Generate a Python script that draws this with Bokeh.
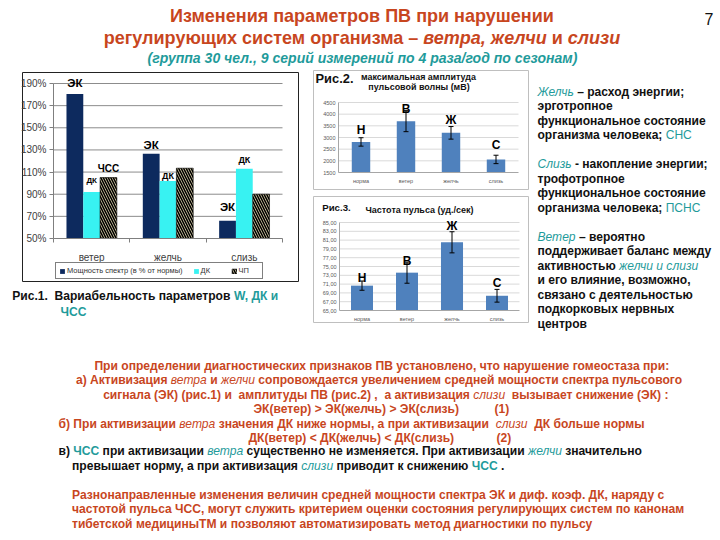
import glob, os
from bokeh.plotting import figure
from bokeh.models import (Range1d, FixedTicker, PrintfTickFormatter, LinearAxis, Legend, LegendItem,
                          ColumnDataSource)
from bokeh.embed import file_html
from bokeh.resources import INLINE
from bokeh.core.properties import value

# ---------------- data ----------------
fig1_categories = ["ветер", "желчь", "слизь"]
fig1_ek = [180.5, 126.5, 66.0]      # Мощность спектр (в % от нормы)
fig1_dk = [92.0, 102.0, 113.0]      # ДК
fig1_chp = [105.0, 113.5, 90.0]     # ЧП
fig1_yticks = [50, 70, 90, 110, 130, 150, 170, 190]
fig1_series_names = ["Мощность спектр (в % от нормы)", "ДК", "ЧП"]
fig1_label_text = ["ЭК", "ДК", "ЧСС", "ЭК", "ДК", "ЭК", "ДК"]
fig1_label_cat = [0, 0, 0, 1, 1, 2, 2]
fig1_label_series = [0, 1, 2, 0, 1, 0, 1]
fig1_label_y = [190.4, 102.4, 113.0, 134.9, 106.9, 78.3, 121.0]

fig2_categories = ["норма", "ветер", "желчь", "слизь"]
fig2_values = [2810, 3700, 3200, 2060]
fig2_err = [180, 450, 270, 180]
fig2_letters = ["Н", "В", "Ж", "С"]
fig2_letter_y = [3340, 4240, 3770, 2660]
fig2_yticks = [1500, 2000, 2500, 3000, 3500, 4000, 4500]

fig3_categories = ["норма", "ветер", "желчь", "слизь"]
fig3_values = [70.65, 73.6, 80.5, 68.35]
fig3_err = [1.05, 2.4, 2.4, 1.45]
fig3_letters = ["Н", "В", "Ж", "С"]
fig3_letter_y = [72.5, 76.2, 84.1, 71.3]
fig3_yticks = [65, 67, 69, 71, 73, 75, 77, 79, 81, 83, 85]

B, I, BI, N = "bold", "italic", "bold italic", "normal"
title_l1 = [("Изменения параметров ПВ при нарушении", B, "o")]
title_l2 = [("регулирующих систем организма – ", B, "o"), ("ветра, желчи", BI, "o"),
            (" и ", B, "o"), ("слизи", BI, "o")]
title_l3 = [("(группа 30 чел., 9 серий измерений по 4 раза/год по сезонам)", BI, "t")]
page_number = "7"

caption1_l1 = [("Рис.1.  Вариабельность параметров ", B, "k"), ("W, ДК и", B, "t")]
caption1_l2 = [("ЧСС", B, "t")]

fig2_tag = "Рис.2."
fig2_title = ["максимальная амплитуда", "пульсовой волны (мВ)"]
fig3_tag = "Рис.3."
fig3_title = "Частота пульса (уд./сек)"

right_lines = [
    [("Желчь", I, "t"), (" – расход энергии;", B, "k")],
    [("эрготропное", B, "k")],
    [("функциональное состояние", B, "k")],
    [("организма человека; ", B, "k"), ("СНС", N, "t")],
    [("Слизь", I, "t"), (" - накопление энергии;", B, "k")],
    [("трофотропное", B, "k")],
    [("функциональное состояние", B, "k")],
    [("организма человека; ", B, "k"), ("ПСНС", N, "t")],
    [("Ветер", I, "t"), (" – вероятно", B, "k")],
    [("поддерживает баланс между", B, "k")],
    [("активностью ", B, "k"), ("желчи и слизи", I, "t")],
    [("и его влияние, возможно,", B, "k")],
    [("связано с деятельностью", B, "k")],
    [("подкорковых нервных", B, "k")],
    [("центров", B, "k")],
]

bottom_lines = [
    [("При определении диагностических признаков ПВ установлено, что нарушение гомеостаза при:", B, "o")],
    [("а) Активизация ", B, "o"), ("ветра", I, "o"), (" и ", B, "o"), ("желчи", I, "o"),
     (" сопровождается увеличением средней мощности спектра пульсового", B, "o")],
    [("сигнала (ЭК) (рис.1) и  амплитуды ПВ (рис.2) ,  а активизация ", B, "o"), ("слизи", I, "o"),
     ("  вызывает снижение (ЭК) :", B, "o")],
    [("ЭК(ветер) > ЭК(желчь) > ЭК(слизь)", B, "o")],
    [("(1)", B, "o")],
    [("б) При активизации ", B, "o"), ("ветра", I, "o"), (" значения ДК ниже нормы, а при активизации  ", B, "o"),
     ("слизи", I, "o"), ("  ДК больше нормы", B, "o")],
    [("ДК(ветер) < ДК(желчь) < ДК(слизь)", B, "o")],
    [("(2)", B, "o")],
    [("в) ", B, "k"), ("ЧСС", B, "t"), (" при активизации ", B, "k"), ("ветра", I, "t"),
     (" существенно не изменяется. При активизации ", B, "k"), ("желчи", I, "t"), (" значительно", B, "k")],
    [("превышает норму, а при активизация ", B, "k"), ("слизи", I, "t"), (" приводит к снижению ", B, "k"),
     ("ЧСС", B, "t"), (" .", B, "k")],
    [("Разнонаправленные изменения величин средней мощности спектра ЭК и диф. коэф. ДК, наряду с", B, "o")],
    [("частотой пульса ЧСС, могут служить критерием оценки состояния регулирующих систем по канонам", B, "o")],
    [("тибетской медициныТМ и позволяют автоматизировать метод диагностики по пульсу", B, "o")],
]

# ---------------- styles ----------------
FONT = "Liberation Sans"
COL = {"o": "#c8461e", "t": "#1f9b9b", "k": "#111111"}
NAVY, CYAN, TAN, BLUE = "#0d2a5e", "#38f2f2", "#e3d9b0", "#4f81bd"
W, H = 720, 540
NBSP = "\u00a0"

# ---------------- font metrics ----------------
_font_index = {}
for d in ("/usr/share/fonts", "/usr/local/share/fonts", os.path.expanduser("~/.fonts")):
    for f in glob.glob(os.path.join(d, "**", "*.ttf"), recursive=True):
        _font_index.setdefault(os.path.basename(f).lower(), f)
try:
    from PIL import ImageFont
except Exception:
    ImageFont = None
_cache = {}


def _pil_font(style):
    suffix = {N: "Regular", B: "Bold", I: "Italic", BI: "BoldItalic"}[style]
    key = ("liberationsans-%s.ttf" % suffix).lower()
    if key not in _cache:
        f = None
        if ImageFont is not None and key in _font_index:
            try:
                f = ImageFont.truetype(_font_index[key], 100)
            except Exception:
                f = None
        _cache[key] = f
    return _cache[key]


def text_width(text, style, size):
    text = text.replace(NBSP, " ")
    f = _pil_font(style)
    if f is None:
        return len(text) * size * (0.6 if "bold" in style else 0.55)
    return f.getlength(text) * size / 100.0


def fit_size(segments, target, base=12.0):
    w = sum(text_width(t, s, base) for t, s, c in segments)
    return base * target / w


def layout_line(segments, x, y, size, align="left"):
    widths = [text_width(t, s, size) for t, s, c in segments]
    total = sum(widths)
    x0 = x - total / 2 if align == "center" else (x - total if align == "right" else x)
    out = []
    for (t, s, c), w in zip(segments, widths):
        stripped = t.lstrip()
        lead = text_width(t[:len(t) - len(stripped)], s, size) if stripped != t else 0.0
        body = stripped.rstrip()
        while "  " in body:
            body = body.replace("  ", " " + NBSP)
        if body:
            out.append(dict(x=x0 + lead, y=y, text=body, style=s, color=COL[c],
                            size="%.2fpx" % size))
        x0 += w
    return out


def lin_range(v0, p0, v1, p1, total):
    """Range whose value v0 sits p0 px and v1 sits p1 px from the range start edge."""
    k = (v1 - v0) / (p1 - p0)
    start = v0 - p0 * k
    return Range1d(start, start + total * k)


# ---------------- page figure ----------------
p = figure(width=W, height=H, x_range=Range1d(0, W), y_range=Range1d(H, 0), min_border=0,
           toolbar_location=None, output_backend="svg", x_axis_type=None, y_axis_type=None,
           title=None)
p.outline_line_color = None
p.grid.visible = False

# plot areas (page pixels): left, right, top, bottom
A1 = (53, 282, 83, 238)
A2 = (338, 518, 102, 172)
A3 = (339, 519, 222, 310)
p.extra_x_ranges = {
    "c1x": lin_range(0, A1[0], len(fig1_categories), A1[1], W),
    "c2x": lin_range(0, A2[0], len(fig2_categories), A2[1], W),
    "c3x": lin_range(0, A3[0], len(fig3_categories), A3[1], W),
}
p.extra_y_ranges = {
    "c1y": lin_range(fig1_yticks[0], H - A1[3], fig1_yticks[-1], H - A1[2], H),
    "c2y": lin_range(fig2_yticks[0], H - A2[3], fig2_yticks[-1], H - A2[2], H),
    "c3y": lin_range(fig3_yticks[0], H - A3[3], fig3_yticks[-1], H - A3[2], H),
}

# chart boxes (decoration)
p.quad(left=[22, 313, 313], right=[298, 528, 528], top=[72, 70, 196], bottom=[281, 189, 322],
       fill_color="white", line_color=["#222222", "#bfbfbf", "#bfbfbf"], line_width=1)


def make_axes(xr, yr, xticks, xlabels, yticks, xbounds, ybounds, lab_size, lab_color, axis_color,
              ystandoff, xstandoff, ytick_out, x_minor=None, y_overrides=None, y_fmt=None):
    ya = LinearAxis(x_range_name=xr, y_range_name=yr, fixed_location=xbounds[0], bounds=ybounds,
                    ticker=FixedTicker(ticks=yticks))
    if y_fmt is not None:
        ya.formatter = y_fmt
    if y_overrides:
        ya.major_label_overrides = y_overrides
    ya.major_tick_out = ytick_out
    ya.major_tick_in = 0
    ya.minor_tick_out = 0
    ya.major_label_standoff = ystandoff
    xa = LinearAxis(x_range_name=xr, y_range_name=yr, fixed_location=ybounds[0], bounds=xbounds,
                    ticker=FixedTicker(ticks=xticks, minor_ticks=x_minor or []))
    xa.major_label_overrides = {x: n for x, n in zip(xticks, xlabels)}
    xa.major_tick_out = 0
    xa.major_tick_in = 0
    xa.minor_tick_out = 4 if x_minor else 0
    xa.minor_tick_in = 0
    xa.major_label_standoff = xstandoff
    for ax in (xa, ya):
        ax.axis_line_color = axis_color
        ax.major_tick_line_color = axis_color
        ax.minor_tick_line_color = axis_color
        ax.major_label_text_font = FONT
        ax.major_label_text_font_size = lab_size
        ax.major_label_text_color = lab_color
    p.add_layout(ya, "left")
    p.add_layout(xa, "below")


def gridlines(xr, yr, ticks, x1, color):
    p.segment(x0=[0] * len(ticks), x1=[x1] * len(ticks), y0=ticks, y1=ticks, line_color=color,
              line_width=1, x_range_name=xr, y_range_name=yr)


# ---------------- chart 1 ----------------
n1 = len(fig1_categories)
bw = 0.22
offs = [-bw, 0.0, bw]
centers1 = [i + 0.5 for i in range(n1)]
gridlines("c1x", "c1y", fig1_yticks[1:], n1, "#8c8c8c")
base1 = fig1_yticks[0]
kw1 = dict(x_range_name="c1x", y_range_name="c1y", width=bw, bottom=base1)
r_ek = p.vbar(x=[c + offs[0] for c in centers1], top=fig1_ek, fill_color=NAVY, line_color=None, **kw1)
r_dk = p.vbar(x=[c + offs[1] for c in centers1], top=fig1_dk, fill_color=CYAN, line_color=None, **kw1)
r_chp = p.vbar(x=[c + offs[2] for c in centers1], top=fig1_chp, fill_color=TAN, line_color="black",
               line_width=0.6, hatch_pattern="\\", hatch_color="black", hatch_weight=1.6,
               hatch_scale=5, **kw1)
make_axes("c1x", "c1y", centers1, fig1_categories, fig1_yticks, (0, n1),
          (fig1_yticks[0], fig1_yticks[-1]), "10px", "#404040", "#7f7f7f", 3, 9, 4,
          x_minor=list(range(n1 + 1)), y_fmt=PrintfTickFormatter(format="%d%%"))
label_size = {"ЭК": "11.5px", "ДК": "9px", "ЧСС": "10px"}
lab1 = ColumnDataSource(dict(
    x=[centers1[c] + offs[s] for c, s in zip(fig1_label_cat, fig1_label_series)],
    y=fig1_label_y, t=fig1_label_text,
    sz=[("8px" if (t == "ДК" and c == 0) else label_size[t]) for t, c in zip(fig1_label_text, fig1_label_cat)]))
p.text(x="x", y="y", text="t", source=lab1, x_range_name="c1x", y_range_name="c1y",
       text_font=value(FONT), text_font_size="sz", text_font_style="bold", text_color="black",
       text_align="center", text_baseline="middle")
legend = Legend(items=[LegendItem(label=fig1_series_names[0], renderers=[r_ek]),
                       LegendItem(label=fig1_series_names[1], renderers=[r_dk]),
                       LegendItem(label=fig1_series_names[2], renderers=[r_chp])],
                location=(55, H - 279), orientation="horizontal", label_text_font=FONT,
                label_text_font_size="7.5px", label_text_color="#333333", glyph_width=6,
                glyph_height=6, label_standoff=2, spacing=10, padding=3, margin=0,
                label_height=7, border_line_color="black", border_line_width=1,
                background_fill_color="white", background_fill_alpha=1)
p.add_layout(legend)


# ---------------- charts 2 and 3 ----------------
def small_chart(xr, yr, area, cats, vals, errs, letters, letter_y, yticks, bar_w, overrides=None):
    n = len(cats)
    xs = [i + 0.5 for i in range(n)]
    gridlines(xr, yr, yticks[1:], n, "#d9d9d9")
    p.vbar(x=xs, top=vals, bottom=yticks[0], width=bar_w, fill_color=BLUE, line_color=None,
           x_range_name=xr, y_range_name=yr)
    up = [v + e for v, e in zip(vals, errs)]
    lo = [v - e for v, e in zip(vals, errs)]
    cw = 2.5 * n / (area[1] - area[0])   # half cap width: 2.5 px in category units
    p.segment(x0=xs, x1=xs, y0=lo, y1=up, line_color="black", line_width=1,
              x_range_name=xr, y_range_name=yr)
    p.segment(x0=[x - cw for x in xs] * 2, x1=[x + cw for x in xs] * 2, y0=up + lo, y1=up + lo,
              line_color="black", line_width=1, x_range_name=xr, y_range_name=yr)
    lsrc = ColumnDataSource(dict(x=xs, y=letter_y, t=letters))
    p.text(x="x", y="y", text="t", source=lsrc, x_range_name=xr, y_range_name=yr,
           text_font=value(FONT), text_font_size="12px", text_font_style="bold", text_color="black",
           text_align="center", text_baseline="middle")
    make_axes(xr, yr, xs, cats, yticks, (0, n), (yticks[0], yticks[-1]), "5.5px", "#595959",
              "#a6a6a6", 3, 5, 0, y_overrides=overrides)


small_chart("c2x", "c2y", A2, fig2_categories, fig2_values, fig2_err, fig2_letters, fig2_letter_y,
            fig2_yticks, 0.41)
small_chart("c3x", "c3y", A3, fig3_categories, fig3_values, fig3_err, fig3_letters, fig3_letter_y,
            fig3_yticks, 0.49, overrides={t: ("%.2f" % t).replace(".", ",") for t in fig3_yticks})

# ---------------- page texts ----------------
items = []
ts = (fit_size(title_l1, 382) + fit_size(title_l2, 519)) / 2
items += layout_line(title_l1, 361.5, 15, ts, "center")
items += layout_line(title_l2, 361.5, 37.5, ts, "center")
items += layout_line(title_l3, 362, 57.5, fit_size(title_l3, 430), "center")
items += layout_line([(page_number, N, "k")], 704, 18, 16)

cs = fit_size(caption1_l1, 266)
items += layout_line(caption1_l1, 11.7, 295.5, cs)
items += layout_line(caption1_l2, 60, 311, cs)

items += layout_line([(fig2_tag, B, "k")], 315, 77.5, fit_size([(fig2_tag, B, "k")], 38))
s2 = fit_size([(fig2_title[0], B, "k")], 115)
items += layout_line([(fig2_title[0], B, "k")], 418, 76, s2, "center")
items += layout_line([(fig2_title[1], B, "k")], 418.5, 86.7, s2, "center")
items += layout_line([(fig3_tag, B, "k")], 321.7, 206.7, fit_size([(fig3_tag, B, "k")], 28.5))
items += layout_line([(fig3_title, B, "k")], 419, 209, fit_size([(fig3_title, B, "k")], 108), "center")

rs = (fit_size(right_lines[9], 173) + fit_size(right_lines[2], 167) + fit_size(right_lines[4], 172)) / 3
right_y = [91, 105.5, 120, 134.5, 163.5, 178, 192.5, 207, 236, 250.5, 265, 279.5, 294, 308.5, 323]
for segs, y in zip(right_lines, right_y):
    items += layout_line(segs, 537, y, rs)

fits = [fit_size(bottom_lines[0], 573), fit_size(bottom_lines[1], 609), fit_size(bottom_lines[5], 586),
        fit_size(bottom_lines[8], 586), fit_size(bottom_lines[10], 593.5),
        fit_size(bottom_lines[11], 609.5), fit_size(bottom_lines[12], 516.5)]
bs = sorted(fits)[len(fits) // 2]
place = [(365, "center", 381.3), (379.5, "center", 378.5), (394, "center", 385.3),
         (408.5, "left", 253), (408.5, "left", 494), (423, "left", 58),
         (437, "left", 248), (437, "left", 496), (450.5, "left", 58), (465, "left", 71.5),
         (494, "left", 71.5), (508.5, "left", 71.5), (523, "left", 71.5)]
for segs, (y, al, x) in zip(bottom_lines, place):
    items += layout_line(segs, x, y, bs, al)

tsrc = ColumnDataSource(dict(x=[i["x"] for i in items], y=[i["y"] for i in items],
                             text=[i["text"] for i in items], st=[i["style"] for i in items],
                             col=[i["color"] for i in items], sz=[i["size"] for i in items]))
p.text(x="x", y="y", text="text", source=tsrc, text_font=value(FONT), text_font_style="st",
       text_color="col", text_font_size="sz", text_baseline="middle", text_align="left")

with open("out.html", "w", encoding="utf-8") as fh:
    fh.write(file_html(p, INLINE))
